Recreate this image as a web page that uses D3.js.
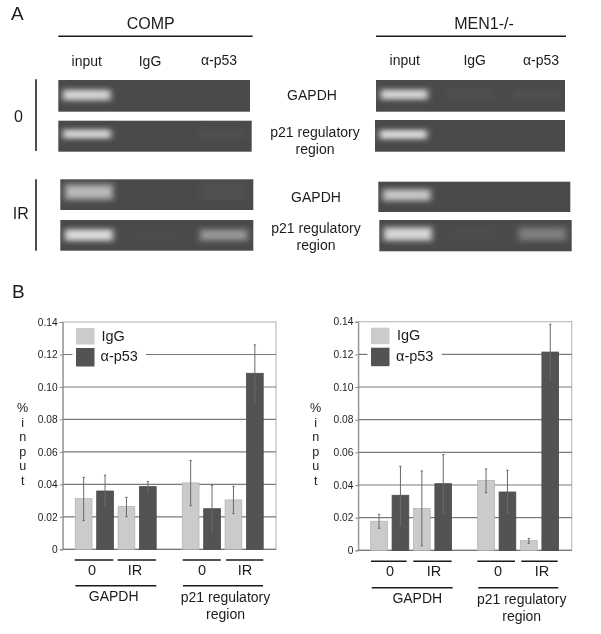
<!DOCTYPE html>
<html><head><meta charset="utf-8">
<script src="https://cdn.jsdelivr.net/npm/d3@7"></script>
<style>html,body{margin:0;padding:0;background:#fff}svg{display:block;filter:blur(0.35px)}text{font-family:"Liberation Sans",Arial,sans-serif;fill:#1c1c1c}</style>
</head><body><svg id="c" width="601" height="634"></svg>
<script>
// ---------- data ----------
const slots = ["GAPDH 0 IgG","GAPDH 0 p53","GAPDH IR IgG","GAPDH IR p53","gap","p21 0 IgG","p21 0 p53","p21 IR IgG","p21 IR p53"];
const yTicks = [0,0.02,0.04,0.06,0.08,0.10,0.12,0.14];
const seriesNames = ["IgG","α-p53"];
const compValues = [0.0312,0.0359,0.0263,0.0386,null,0.0409,0.0250,0.0304,0.1084];
const compErrHigh = [0.0443,0.0456,0.0320,0.0417,null,0.0546,0.0394,0.0388,0.1259];
const compErrLow  = [0.0177,0.0269,0.0201,0.0355,null,0.0269,0.0109,0.0220,0.0906];
const menValues = [0.0178,0.0337,0.0257,0.0408,null,0.0427,0.0357,0.0059,0.1214];
const menErrHigh = [0.0220,0.0514,0.0486,0.0586,null,0.0498,0.0490,0.0073,0.1384];
const menErrLow  = [0.0135,0.0151,0.0027,0.0227,null,0.0353,0.0227,0.0043,0.1044];
const lanes = ["input","IgG","α-p53"];
// gel band intensity per lane, top to bottom
const compGels = [[0.9,0,0],[0.9,0,0.05],[0.7,0,0.06],[0.95,0.02,0.5]];
const menGels  = [[0.9,0.04,0.06],[0.95,0,0],[0.8,0,0],[0.92,0.02,0.36]];
const titleLetters = ["%","i","n","p","u","t"];

// ---------- helpers ----------
const svg = d3.select("#c");
const defs = svg.append("defs");
[["b3","3 2.6"],["b1","2.6 2"]].forEach(f=>defs.append("filter").attr("id",f[0]).attr("x","-30%").attr("y","-120%").attr("width","160%").attr("height","340%")
  .append("feGaussianBlur").attr("stdDeviation",f[1]));
function txt(s,x,y,size,anchor="middle"){return svg.append("text").attr("x",x).attr("y",y).attr("font-size",size).attr("text-anchor",anchor).text(s);}
function hline(x1,x2,y,w=1.4,c="#1a1a1a"){svg.append("line").attr("x1",x1).attr("x2",x2).attr("y1",y).attr("y2",y).attr("stroke",c).attr("stroke-width",w);}

// ---------- panel A ----------
txt("A",11,20,19,"start");
txt("B",12,298,19,"start");
txt("COMP",150.7,29,16);
txt("MEN1-/-",484,29,16);
hline(58.3,252.7,36.3);
hline(376,566,36.3);
[["input",86.7,66],["IgG",150,65.7],["α-p53",219,64.5],["input",404.7,65],["IgG",474.7,64.5],["α-p53",541,64.5]]
  .forEach(d=>txt(d[0],d[1],d[2],14));
[[79.3,151],[179.3,250.7]].forEach(d=>svg.append("line").attr("x1",36).attr("x2",36).attr("y1",d[0]).attr("y2",d[1]).attr("stroke","#222").attr("stroke-width",1.6));
txt("0",18.5,121.7,16);
txt("IR",20.7,219.3,16);
[["GAPDH",312,100],["p21 regulatory",315,136.5],["region",315,153.5],["GAPDH",316,201.5],["p21 regulatory",316,233],["region",316,250]]
  .forEach(d=>txt(d[0],d[1],d[2],14));

function gel(rows,boxes,centers,thick){
  rows.forEach((row,i)=>{
    const [x0,x1,y0,y1]=boxes[i];
    const clip="g"+Math.round(x0)+"_"+i;
    defs.append("clipPath").attr("id",clip).append("rect").attr("x",x0).attr("y",y0).attr("width",x1-x0).attr("height",y1-y0);
    svg.append("rect").attr("x",x0).attr("y",y0).attr("width",x1-x0).attr("height",y1-y0).attr("fill","#4a4a4a");
    const lane=d3.scaleBand().domain(lanes).range([x0+4,x0+(x1-x0)*0.975]).paddingInner(0.27);
    const g=svg.append("g").attr("clip-path",`url(#${clip})`);
    row.forEach((v,j)=>{
      if(!v) return;
      const h=thick[i]+2, cy=centers[i];
      g.append("rect").attr("x",lane(lanes[j])).attr("width",lane.bandwidth()).attr("y",cy-h/2).attr("height",h)
        .attr("fill","#b0b0b0").attr("opacity",Math.min(1,v*1.05)).attr("filter","url(#b3)");
      if(v>0.3) g.append("rect").attr("x",lane(lanes[j])+3).attr("width",lane.bandwidth()-6).attr("y",cy-h*0.25).attr("height",h*0.5)
        .attr("fill","#e2e2e2").attr("opacity",v*v).attr("filter","url(#b1)");
    });
  });
}
gel(compGels,[[58.3,250,80,111.7],[58.3,251.7,120.7,151.7],[60.3,253.3,179.3,210],[60.3,253.3,220,250.7]],[95,134,192,235],[10,8,15,11]);
gel(menGels,[[376,565,80,111.7],[375,565,120,151.7],[378.3,570.3,181.7,212],[379.3,571.7,220,251.3]],[94.5,134.5,195,234],[9,8,11,13]);

// ---------- panel B ----------
function chart(o){
  const x=d3.scaleBand().domain(slots).range([o.barStart,o.barStart+187.9]).paddingInner(0.22);
  const y=d3.scaleLinear().domain([0,0.14]).range([o.y0,o.y1]);
  const g=svg.append("g");
  g.append("rect").attr("x",o.x0).attr("y",o.y1).attr("width",o.x1-o.x0).attr("height",o.y0-o.y1).attr("fill","#fff").attr("stroke","#bdbdbd").attr("stroke-width",1.2);
  g.selectAll("line.grid").data(yTicks.slice(1,-1)).enter().append("line").attr("class","grid")
    .attr("x1",o.x0).attr("x2",o.x1).attr("y1",d=>y(d)).attr("y2",d=>y(d)).attr("stroke","#7a7a7a").attr("stroke-width",1.1);
  const ax=d3.axisLeft(y).tickValues(yTicks).tickSize(3).tickPadding(2).tickFormat(d=>d===0?"0":d3.format(".2f")(d));
  const ag=g.append("g").attr("transform",`translate(${o.x0},0)`).call(ax);
  ag.selectAll("text").attr("font-size",10.2).attr("fill","#222");
  ag.selectAll("line,path").attr("stroke","#8a8a8a");
  g.append("line").attr("x1",o.x0).attr("x2",o.x1).attr("y1",o.y0).attr("y2",o.y0).attr("stroke","#777").attr("stroke-width",1.2);
  g.append("rect").attr("x",o.legX-3.5).attr("y",o.y1+3).attr("width",o.legGapEnd-o.legX+3.5).attr("height",44).attr("fill","#fff");
  const isDark=i=>i%2===1 && i<4 || (i>4 && i%2===0);
  const col=i=>isDark(i)?"#535353":"#cbcbcb";
  const idx=d3.range(slots.length).filter(i=>o.v[i]!==null);
  g.selectAll("rect.bar").data(idx).enter().append("rect").attr("class","bar")
    .attr("x",i=>x(slots[i])).attr("width",x.bandwidth()).attr("y",i=>y(o.v[i])).attr("height",i=>o.y0-y(o.v[i]))
    .attr("fill",col).attr("stroke",i=>isDark(i)?"#4a4a4a":"#b4b4b4").attr("stroke-width",0.8);
  const cx=i=>x(slots[i])+x.bandwidth()/2;
  g.selectAll("line.err").data(idx).enter().append("line").attr("class","err")
    .attr("x1",cx).attr("x2",cx).attr("y1",i=>y(o.hi[i])).attr("y2",i=>y(o.lo[i])).attr("stroke","#6a6a6a").attr("stroke-width",1);
  [o.hi,o.lo].forEach(a=>g.selectAll(null).data(idx).enter().append("line")
    .attr("x1",i=>cx(i)-1.2).attr("x2",i=>cx(i)+1.2).attr("y1",i=>y(a[i])).attr("y2",i=>y(a[i])).attr("stroke","#6a6a6a"));
  seriesNames.forEach((s,i)=>{
    g.append("rect").attr("x",o.legX).attr("y",i?o.y1+26:o.y1+6).attr("width",18.5).attr("height",i?18.5:16.5).attr("fill",i?"#535353":"#cbcbcb");
    txt(s,o.legX+(i?o.legT2:o.legT1),o.y1+(i?39:18.5),14.5,"start");
  });
  o.sub.forEach(d=>{hline(d[0],d[1],o.l1,1.4);});
  [["0",0],["IR",1],["0",2],["IR",3]].forEach(d=>txt(d[0],o.subC[d[1]],o.l1+14.5,14.5));
  o.main.forEach(d=>hline(d[0],d[1],o.l2,1.4));
  txt("GAPDH",o.mainC[0],o.l2+15.2,14);
  txt("p21 regulatory",o.mainC[1],o.l2+16,14);
  txt("region",o.mainC[1],o.l2+32.8,14);
  // vertical y title: evenly stepped letters that do not collide
  titleLetters.forEach((c,i)=>txt(c,o.ty,412+i*14.6,12.6));
}
chart({v:compValues,hi:compErrHigh,lo:compErrLow,barStart:75.3,x0:62.7,x1:276,y0:549.3,y1:322,legX:76,legGapEnd:146,legT1:25.5,legT2:24.5,
  sub:[[74.7,113.3],[117.7,156],[182.7,220.7],[226,263.3]],subC:[92,135,202,245],l1:560,l2:585.7,
  main:[[75.3,156.3],[183,263]],mainC:[113.7,225.5],ty:22.7});
chart({v:menValues,hi:menErrHigh,lo:menErrLow,barStart:370.7,x0:358.3,x1:571.7,y0:550.3,y1:321.7,legX:371,legGapEnd:441.7,legT1:26,legT2:25,
  sub:[[371,406.7],[413.3,451.7],[477.3,515],[521.3,557.7]],subC:[390,434,498,542],l1:561.3,l2:587.7,
  main:[[371.7,452.7],[478.3,558.3]],mainC:[417.3,521.7],ty:315.7});
</script></body></html>
